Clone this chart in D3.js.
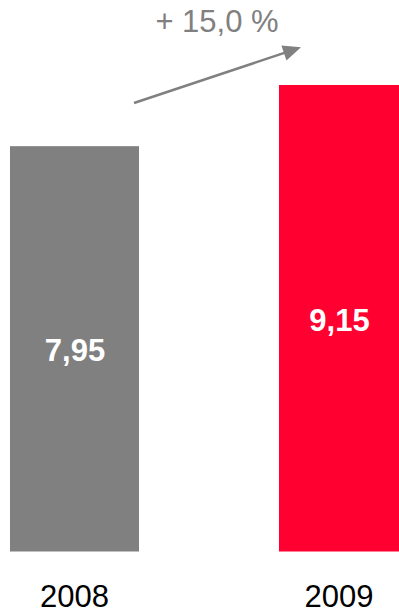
<!DOCTYPE html>
<html><head><meta charset="utf-8">
<script src="https://cdn.jsdelivr.net/npm/d3@7"></script>
<style>html,body{margin:0;padding:0;background:#fff;overflow:hidden}</style>
</head><body>
<script>
const years = ["2008", "2009"];
const values = [7.95, 9.15];
const valueLabels = ["7,95", "9,15"];
const colors = ["#808080", "#FF0030"];
const growthLabel = "+ 15,0 %";

const W = 399, H = 613;
const svg = d3.select("body").append("svg").attr("width", W).attr("height", H);

const baseline = 551.5;
const y = d3.scaleLinear().domain([0, 9.15]).range([baseline, 85]);
const x = d3.scaleBand().domain(years).range([10, 408]).paddingInner(0.5204).paddingOuter(0);

const data = years.map((yr, i) => ({yr, v: values[i], lab: valueLabels[i], c: colors[i]}));

svg.selectAll("rect.bar").data(data).enter().append("rect")
  .attr("class", "bar")
  .attr("x", d => x(d.yr))
  .attr("width", d => Math.min(x(d.yr) + x.bandwidth(), W) - x(d.yr))
  .attr("y", d => y(d.v))
  .attr("height", d => baseline - y(d.v))
  .attr("fill", d => d.c);

const cx = d => (x(d.yr) + Math.min(x(d.yr) + x.bandwidth(), W)) / 2;

svg.selectAll("text.val").data(data).enter().append("text")
  .attr("class", "val")
  .attr("x", d => cx(d) + 0.5)
  .attr("y", d => (y(d.v) + baseline) / 2 + 12.5)
  .attr("text-anchor", "middle")
  .attr("font-family", "Liberation Sans, Arial, sans-serif")
  .attr("font-weight", "bold")
  .attr("font-size", 31)
  .attr("fill", "#fff")
  .text(d => d.lab);

svg.selectAll("text.yr").data(data).enter().append("text")
  .attr("class", "yr")
  .attr("x", d => cx(d))
  .attr("y", 607)
  .attr("text-anchor", "middle")
  .attr("font-family", "Liberation Sans, Arial, sans-serif")
  .attr("font-size", 31)
  .attr("fill", "#000")
  .text(d => d.yr);

// growth arrow
const x0 = 134, y0 = 103, x1 = 301, y1 = 47.3;
const ang = Math.atan2(y1 - y0, x1 - x0);
const hl = 18, hw = 8;
const bx = x1 - hl * Math.cos(ang), by = y1 - hl * Math.sin(ang);
svg.append("line")
  .attr("x1", x0).attr("y1", y0).attr("x2", bx + 2 * Math.cos(ang)).attr("y2", by + 2 * Math.sin(ang))
  .attr("stroke", "#808080").attr("stroke-width", 2.5);
svg.append("path")
  .attr("d", d3.line()([
    [x1, y1],
    [bx + hw * Math.sin(ang), by - hw * Math.cos(ang)],
    [bx - hw * Math.sin(ang), by + hw * Math.cos(ang)]
  ]) + "Z")
  .attr("fill", "#808080");

svg.append("text")
  .attr("x", 217).attr("y", 32)
  .attr("text-anchor", "middle")
  .attr("font-family", "Liberation Sans, Arial, sans-serif")
  .attr("font-size", 31)
  .attr("fill", "#808080")
  .text(growthLabel);
</script>
</body></html>
